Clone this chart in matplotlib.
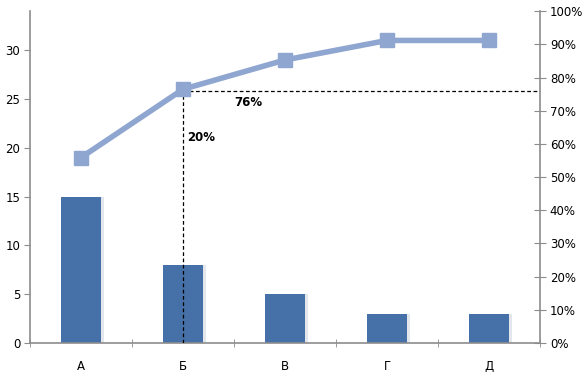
import matplotlib
matplotlib.use("Agg")
import matplotlib.pyplot as plt
from matplotlib.ticker import FuncFormatter

# данные
categories = ["А", "Б", "В", "Г", "Д"]
counts = [15, 8, 5, 3, 3]
cumulative = [19, 26, 29, 31, 31]   # линия, в единицах левой оси
y_max = 34
cut_pct = 0.76
cut_label = "76%"
share_label = "20%"

bar_color = "#4671A8"
line_color = "#8EA6D0"
axis_color = "#8C8C8C"

fig = plt.figure(figsize=(5.87, 3.72), dpi=100)
ax = fig.add_axes([0.0511, 0.078, 0.869, 0.892])
ax2 = ax.twinx()

x = list(range(len(categories)))

# тень столбцов
ax.bar([i + 0.03 for i in x], counts, width=0.39, color="#e3e6eb", zorder=1)
ax.bar(x, counts, width=0.39, color=bar_color, zorder=2)

ax.plot(x, cumulative, color=line_color, linewidth=4, marker="s",
        markersize=10, markerfacecolor=line_color, markeredgecolor=line_color,
        zorder=4)

# пунктирные линии
i_cut = 1
y_cut = cut_pct * y_max
ax.plot([x[i_cut], x[i_cut]], [0, cumulative[i_cut]], color="black",
        linestyle=(0, (3, 2)), linewidth=0.9, zorder=3)
ax.plot([x[i_cut], len(categories) - 0.5], [y_cut, y_cut], color="black",
        linestyle=(0, (3, 2)), linewidth=0.9, zorder=3)

ax.text(x[i_cut] + 0.64, y_cut - 1.2, cut_label, fontsize=8.5, fontweight="bold",
        ha="center", va="center")
ax.text(x[i_cut] + 0.18, y_cut - 4.8, share_label, fontsize=8.5, fontweight="bold",
        ha="center", va="center")

ax.set_xlim(-0.5, len(categories) - 0.5)
ax.set_ylim(0, y_max)
ax2.set_ylim(0, 1)

ax.set_yticks([0, 5, 10, 15, 20, 25, 30])
ax2.set_yticks([i / 10 for i in range(11)])
ax2.yaxis.set_major_formatter(FuncFormatter(lambda v, p: f"{round(v * 100)}%"))

ax.set_xticks(x)
ax.set_xticklabels(categories)
ax.set_xticks([i - 0.5 for i in range(len(categories) + 1)], minor=True)
ax.tick_params(axis="x", which="major", length=0, pad=12, labelsize=8.5)
ax.tick_params(axis="x", which="minor", length=6, direction="inout",
               color=axis_color)
ax.tick_params(axis="y", length=4, color=axis_color, labelsize=8.5, pad=3)
ax2.tick_params(axis="y", length=8, direction="inout", color=axis_color,
                labelsize=8.5, pad=3)

for a in (ax, ax2):
    a.spines["top"].set_visible(False)
    for s in ("left", "right", "bottom"):
        a.spines[s].set_color(axis_color)
        a.spines[s].set_linewidth(1.2)
ax.spines["right"].set_visible(False)
ax2.spines["left"].set_visible(False)
ax2.spines["bottom"].set_visible(False)

plt.savefig("out.png", dpi=100)
